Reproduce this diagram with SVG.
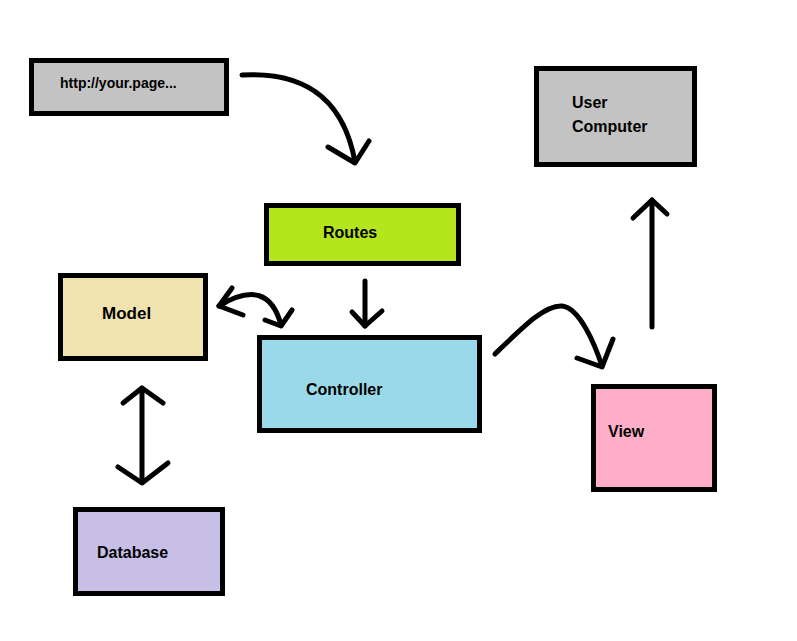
<svg xmlns="http://www.w3.org/2000/svg" width="797" height="641" viewBox="0 0 797 641">
<style>
.box{stroke:#000;stroke-width:5;}
.lbl{font-family:"Liberation Sans",Arial,sans-serif;font-weight:bold;font-size:16px;fill:#000;}
.small{font-size:14px;}
.c{fill:none;stroke:#000;stroke-width:5;stroke-linecap:round;stroke-linejoin:round;}
</style>
<rect width="797" height="641" fill="#fff"/>
<g id="url">
<rect class="box" x="31.5" y="60.5" width="195" height="53" fill="#c3c3c3"/>
<text class="lbl small" x="60" y="88">http://your.page...</text>
</g>
<g id="user-computer">
<rect class="box" x="536.5" y="68.5" width="158" height="96" fill="#c3c3c3"/>
<text class="lbl" x="572" y="108">User</text>
<text class="lbl" x="572" y="132">Computer</text>
</g>
<g id="routes">
<rect class="box" x="266.5" y="205.5" width="192" height="58" fill="#b5e61d"/>
<text class="lbl" x="323" y="238">Routes</text>
</g>
<g id="model">
<rect class="box" x="60.5" y="275.5" width="145" height="83" fill="#efe4b0"/>
<text class="lbl" x="102" y="319" style="font-size:17px">Model</text>
</g>
<g id="controller">
<rect class="box" x="259.5" y="337.5" width="220" height="93" fill="#99d9ea"/>
<text class="lbl" x="306" y="395">Controller</text>
</g>
<g id="view">
<rect class="box" x="593.5" y="386.5" width="121" height="103" fill="#ffaec9"/>
<text class="lbl" x="608" y="437">View</text>
</g>
<g id="database">
<rect class="box" x="75.5" y="509.5" width="147" height="84" fill="#c8bfe7"/>
<text class="lbl" x="97" y="558">Database</text>
</g>
<g id="connectors">
<path class="c" d="M242,75 C295,72 342,90 355,162"/>
<path class="c" d="M328,147 L355,163 L369,141"/>
<path class="c" d="M365,281 L365,326"/>
<path class="c" d="M352,312 L365,326 L382,311"/>
<path class="c" d="M219,306 Q268,276 281,325"/>
<path class="c" d="M232,288 L219,306 L243,315"/>
<path class="c" d="M265,320 L281,326 L292,310"/>
<path class="c" d="M142,388 L142,482"/>
<path class="c" d="M123,403 L142,388 L163,403"/>
<path class="c" d="M118,467 L142,483 L168,463"/>
<path class="c" d="M495,354 C525,325 545,305 562,306 C580,308 595,345 602,366"/>
<path class="c" d="M577,358 L602,367 L613,339"/>
<path class="c" d="M652,327 L652,200"/>
<path class="c" d="M633,218 L652,200 L667,214"/>
</g>
</svg>
